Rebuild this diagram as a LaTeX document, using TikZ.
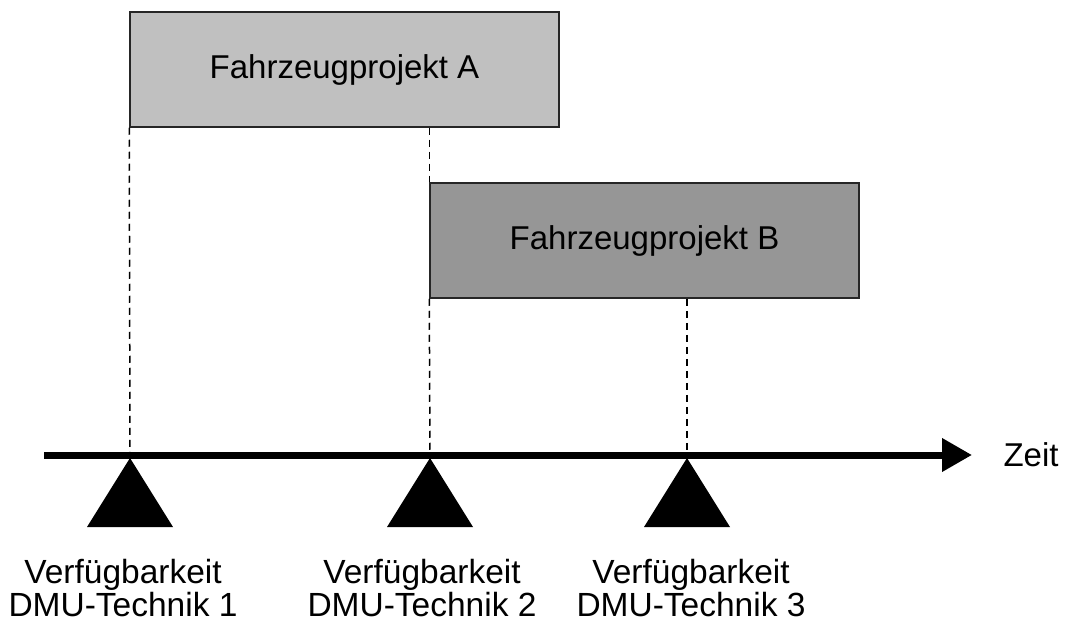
\documentclass[tikz,border=0pt]{standalone}
\usepackage{fontspec}
\setmainfont{Liberation Sans}
\usetikzlibrary{arrows.meta,calc}
\definecolor{projA}{RGB}{192,192,192}
\definecolor{projB}{RGB}{150,150,150}
\begin{document}
\begin{tikzpicture}[x=1pt,y=-1pt,
  project/.style={draw=black!85, line width=1.5pt, minimum width=429pt,
    minimum height=115pt, inner sep=0pt, font=\fontsize{33}{36}\selectfont},
  guide/.style={line width=1.5pt, dash pattern=on 7pt off 5pt},
  milestone/.style={fill=black},
  caption/.style={align=center, anchor=north, inner sep=0pt,
    font=\fontsize{33.5}{33.5}\selectfont}]
\useasboundingbox (0,0) rectangle (1066,623);

% project bars
\node[project, fill=projA] (A) at (344.5,69.5) {Fahrzeugprojekt A};
\node[project, fill=projB] (B) at (644.5,240.5) {Fahrzeugprojekt B};

% time axis anchors
\coordinate (start) at (44,455);
\coordinate (tip) at (972,455);
\coordinate (t1) at (130,455);
\coordinate (t2) at (430,455);
\coordinate (t3) at (687,455);

% dashed guides from the bars to the axis
\draw[guide] (A.south west) -- (t1);
\draw[guide] (B.north west |- A.south) -- (B.north west);
\draw[guide] (B.south west) -- (t2);
\draw[guide] (t3 |- B.south) -- (t3);

% axis
\draw[line width=7pt, -{Triangle[length=30pt,width=32pt]}] (start) -- (tip);
\node[font=\fontsize{33}{36}\selectfont] (zeit) at (1031,455) {Zeit};

% milestone markers
\foreach \t in {t1,t2,t3}
  \fill[milestone] ($(\t)+(0,3)$) -- ++(43,69) -- ++(-86,0) -- cycle;

% captions
\node[caption] (c1) at (123,559) {Verfügbarkeit\\DMU-Technik 1};
\node[caption] (c2) at (422,559) {Verfügbarkeit\\DMU-Technik 2};
\node[caption] (c3) at (691,559) {Verfügbarkeit\\DMU-Technik 3};
\end{tikzpicture}
\end{document}
